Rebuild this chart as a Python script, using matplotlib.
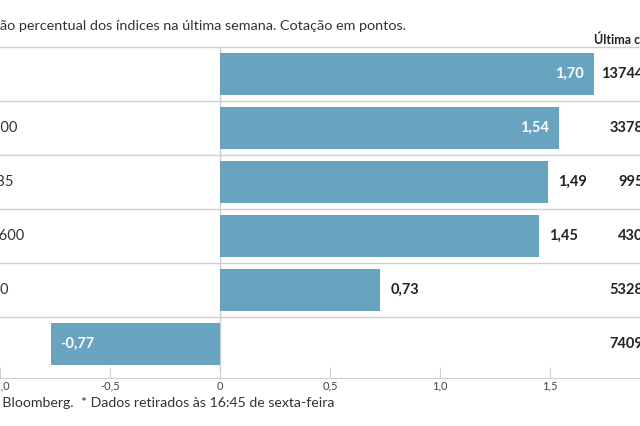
import matplotlib.pyplot as plt

plt.rcParams['font.family'] = ['Lato', 'DejaVu Sans']

# variação semanal (%) e última cotação (pontos)
indices = ["DAX", "S&P 500", "IBEX 35", "Stoxx 600", "PSI 20", "FTSE"]
variacao = [1.70, 1.54, 1.49, 1.45, 0.73, -0.77]
cotacao = ["13744,21", "3378,12", "9955,9", "430,73", "5328,08", "7409,13"]
label_inside = [True, True, False, False, False, True]
ticks = [-1.0, -0.5, 0, 0.5, 1.0, 1.5]
tick_labels = ["-1,0", "-0,5", "0", "0,5", "1,0", "1,5"]

W, H = 640, 426
ZERO_PX, SCALE = 216, 222
BAR_COLOR = "#68a3bf"
GRID = "#cfcfcf"
# fim (px) de cada nome de índice, cortado pela margem esquerda
label_end_px = [-10, 12, 8, 18, 3, -10]


def px2x(px):
    return (px - ZERO_PX) / SCALE


fig = plt.figure(figsize=(W / 100, H / 100), dpi=100)
top_px, bottom_px = 47, 371
ax = fig.add_axes([0, (H - bottom_px) / H, 1, (bottom_px - top_px) / H])

ypos = list(range(len(indices)))
ax.barh(ypos, variacao, height=0.76, color=BAR_COLOR, zorder=2)
ax.set_xlim(px2x(0), px2x(W))
ax.set_ylim(len(indices) - 0.5, -0.5)

# linhas de separação e linha do zero
for y in range(len(indices)):
    ax.axhline(y - 0.5, color=GRID, lw=1, clip_on=False, zorder=1)
ax.axvline(0, color=GRID, lw=1, zorder=1)

gap = 10 / SCALE
for y, v, inside in zip(ypos, variacao, label_inside):
    txt = f"{v:.2f}".replace(".", ",")
    if inside and v >= 0:
        ax.text(v - gap, y, txt, ha="right", va="center", color="white",
                fontsize=10.5, fontweight="bold", zorder=3)
    elif inside:
        ax.text(v + gap, y, txt, ha="left", va="center", color="white",
                fontsize=10.5, fontweight="bold", zorder=3)
    else:
        ax.text(v + gap, y, txt, ha="left", va="center", color="#222222",
                fontsize=10.5, fontweight="bold", zorder=3)

for y, name, c, end in zip(ypos, indices, cotacao, label_end_px):
    ax.text(px2x(end), y, name, ha="right", va="center", color="#333333",
            fontsize=10.5, clip_on=False)
    ax.text(px2x(664), y, c, ha="right", va="center", color="#222222",
            fontsize=10.5, fontweight="bold", clip_on=False)

ax.text(px2x(594), -0.5 - 8 / 54, "Última cotação*", ha="left", va="center",
        color="#222222", fontsize=9, fontweight="bold", clip_on=False)

for s in ["top", "left", "right"]:
    ax.spines[s].set_visible(False)
ax.spines["bottom"].set_position(("outward", 5))
ax.spines["bottom"].set_color(GRID)
ax.set_yticks([])
ax.set_xticks(ticks)
ax.set_xticklabels(tick_labels)
ax.tick_params(axis="x", direction="in", length=8, color=GRID, labelsize=8,
               labelcolor="#444444", pad=2)

fig.text(-40 / W, 1 - 26 / H,
         "Variação percentual dos índices na última semana. Cotação em pontos.",
         ha="left", va="center", fontsize=10.4, color="#333333")
fig.text(-41 / W, 1 - 403 / H,
         "Fonte: Bloomberg.  * Dados retirados às 16:45 de sexta-feira",
         ha="left", va="center", fontsize=10.2, color="#333333")

fig.savefig("out.png", dpi=100)
